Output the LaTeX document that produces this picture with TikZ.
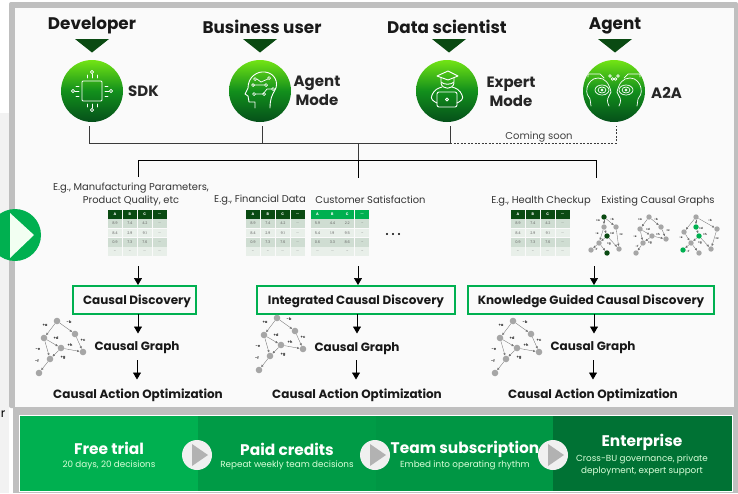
\documentclass[tikz,border=0pt]{standalone}
\usepackage{fontspec}
\setmainfont{Poppins}
\usetikzlibrary{arrows.meta,calc}
\definecolor{frame}{HTML}{BFBFBF}
\definecolor{panel}{HTML}{FAFAFA}
\definecolor{brandgreen}{HTML}{00B050}
\definecolor{dkgreen}{HTML}{0A4A12}
\definecolor{conn}{HTML}{3A3A3A}
\definecolor{gnode}{HTML}{A6A6A6}
\definecolor{rowa}{HTML}{CFDDD2}
\definecolor{rowb}{HTML}{E8EFE9}
\definecolor{icontop}{HTML}{72E414}
\definecolor{iconmid}{HTML}{128F1C}
\definecolor{iconbot}{HTML}{05501A}
\newcommand{\dd}{{.}{.}{.}}
\tikzset{
 x=1pt,y=-1pt,
 conn/.style={draw=conn,line width=.6pt},
 dashconn/.style={conn,dash pattern=on 2pt off 1.5pt},
 flow/.style={draw=black,line width=.7pt,-{Triangle[length=7pt,width=8pt]}},
 role/.style={font=\bfseries\fontsize{16.8}{17}\selectfont,text=black!90,inner sep=0pt,yshift=-2pt},
 mode/.style={font=\bfseries\fontsize{15}{18.5}\selectfont,text=black!85,align=center,inner sep=0pt,yshift=-1pt},
 eg/.style={font=\fontsize{9.9}{13}\selectfont,text=black!80,align=center,inner sep=0pt,yshift=-1pt},
 stage/.style={font=\bfseries\fontsize{12}{12}\selectfont,text=black!90,inner sep=0pt,yshift=-1.5pt},
 cgraph/.style={font=\bfseries\fontsize{12}{12}\selectfont,text=black!90,inner sep=0pt,yshift=-1.5pt},
 cao/.style={font=\bfseries\fontsize{12}{12}\selectfont,text=black!90,inner sep=0pt,yshift=-1pt},
 stagebox/.style={draw=brandgreen,line width=2.4pt,inner sep=0pt,fill=none},
 icon/.style={circle,minimum size=62pt,inner sep=0pt,top color=icontop,bottom color=iconbot,middle color=iconmid},
 tri/.style={fill=dkgreen,draw=none},
 ico/.style={draw=white,line width=.9pt,fill=none,line cap=round,line join=round},
 cellh/.style={font=\bfseries\fontsize{3.6}{4}\selectfont,text=white,inner sep=0pt},
 celld/.style={font=\fontsize{3.6}{4}\selectfont,text=black!60,inner sep=0pt},
 gn/.style={circle,fill=gnode,draw=none,minimum size=6.6pt,inner sep=0pt},
 gm/.style={circle,fill=gnode,draw=none,minimum size=5.4pt,inner sep=0pt},
 ge/.style={draw=black!55,line width=.35pt,-{Latex[length=2.4pt,width=2.4pt]}},
 gl/.style={font=\bfseries\fontsize{3.8}{4}\selectfont,text=black!80,inner sep=0pt},
 gs/.style={font=\bfseries\fontsize{2.8}{3}\selectfont,text=black!80,inner sep=0pt},
 plan/.style={font=\bfseries\fontsize{15.4}{16}\selectfont,text=white,inner sep=0pt,yshift=-1pt},
 plansub/.style={font=\fontsize{8.8}{12.5}\selectfont,text=white!85!green,align=center,inner sep=0pt,yshift=-.5pt},
}
% table: #1 x, #2 y, #3 header colour
\newcommand{\datatable}[3]{%
 \foreach \t [count=\i from 0] in {A,B,C,\dd}{
  \fill[#3] ($(#1,#2)+(\i*14.9,0)$) rectangle ++(14.1,9);
  \node[cellh] at ($(#1,#2)+(\i*14.9+7,4.5)$) {\t};
  \fill[rowa] ($(#1,#2)+(\i*14.9,9.6)$) rectangle ++(14.1,8.8);
  \fill[rowb] ($(#1,#2)+(\i*14.9,19)$) rectangle ++(14.1,8.8);
  \fill[rowa] ($(#1,#2)+(\i*14.9,28.4)$) rectangle ++(14.1,8.8);
  \fill[rowb] ($(#1,#2)+(\i*14.9,37.8)$) rectangle ++(14.1,8.8);
 }
}
\newcommand{\rowvals}[4]{%
 \foreach \v [count=\i from 0] in {#4}{
  \node[celld] at ($(#1,#2)+(\i*14.9+7,#3)$) {\v};
 }
}
\newcommand{\tablevals}[2]{%
 \rowvals{#1}{#2}{14}{8.9,7.4,4.2,\dd}
 \rowvals{#1}{#2}{23.4}{8.4,2.9,9.1,\dd}
 \rowvals{#1}{#2}{32.8}{0.9,7.3,7.6,\dd}
 \rowvals{#1}{#2}{42.2}{\dd,\dd,\dd,\dd}
}
% small causal graph
\newcommand{\smallgraph}[3]{%
\begin{scope}[shift={(#1,#2)}]
 \node[gn] (#3t) at (57,321) {};
 \node[gn] (#3b) at (75,334) {};
 \node[gn] (#3c) at (83,352) {};
 \node[gn] (#3d) at (44,338) {};
 \node[gn] (#3e) at (61,348) {};
 \node[gn] (#3f) at (50,359) {};
 \node[gn] (#3g) at (39,373) {};
 \draw[ge] (#3t)--(#3d);
 \draw[ge] (#3t)--(#3b);
 \draw[ge] (#3b)--(#3c);
 \draw[ge] (#3d)--(#3e);
 \draw[ge] (#3d)--(#3f);
 \draw[ge] (#3e)--(#3c);
 \draw[ge] (#3e)--(#3f);
 \draw[ge] (#3f)--(#3g);
 \node[gl] at (45,325) {+a};
 \node[gl] at (69,322) {-b};
 \node[gl] at (83,340) {+c};
 \node[gl] at (56,338) {+d};
 \node[gl] at (38,349) {-e};
 \node[gl] at (70,345) {+h};
 \node[gl] at (63,358) {+g};
 \node[gl] at (37,361) {-f};
\end{scope}}
\begin{document}
\begin{tikzpicture}
\useasboundingbox (0,0) rectangle (738,493);
% page backdrop
\fill[white] (0,0) rectangle (738,493);
\fill[black!5] (0,113) rectangle (9,493);
% frame
\fill[frame,rounded corners=2pt] (9,2) rectangle (738,408);
\fill[frame] (13,400) rectangle (738,493);
\fill[panel] (15,8) rectangle (734,407);
% bottom band
\fill[white] (19,415) rectangle (733,492);
\fill[brandgreen] (20,416) rectangle (198,491);
\fill[brandgreen!88!black] (198,416) rectangle (376,491);
\fill[brandgreen!85!black] (376,416) rectangle (553,491);
\fill[brandgreen!65!black] (553,416) rectangle (732,491);
\foreach \n/\x in {pa/197,pb/375,pc/553}{
 \node[circle,fill=black!6,minimum size=30pt,inner sep=0pt] (\n) at (\x,455) {};
 \fill[black!30] (\x-5,444) -- (\x+11,455) -- (\x-5,466) -- cycle;
}
\node[plan] (fta) at (109,447) {Free trial};
\node[plansub] (ftb) at (109,464.5) {20 days, 20 decisions};
\node[plan] (pca) at (287,448) {Paid credits};
\node[plansub] (pcb) at (287,465) {Repeat weekly team decisions};
\node[plan] (tsa) at (465,448) {Team subscription};
\node[plansub] (tsb) at (465,465) {Embed into operating rhythm};
\node[plan] (ena) at (642,441) {Enterprise};
\node[plansub] (enb) at (642,465) {Cross-BU governance, private\\deployment, expert support};
% fragments at the left edge
\node[font=\fontsize{12}{12}\selectfont,inner sep=0pt] (frag) at (3,414) {r};
% roles
\node[role] (r1) at (92,24) {Developer};
\node[role] (r2) at (262,25) {Business user};
\node[role] (r3) at (447,25) {Data scientist};
\node[role] (r4) at (615,24) {Agent};
\foreach \x in {92,260,449,615}{\fill[tri] (\x-17,39) -- (\x+17,39) -- (\x,52.5) -- cycle;}
% icon circles
\node[icon] (i1) at (92,91) {};
\node[icon] (i2) at (260,91) {};
\node[icon] (i3) at (447,91) {};
\node[icon] (i4) at (614,91) {};
\node[mode,anchor=west] (m1) at (128,90) {SDK};
\node[mode] (m2) at (317,90) {Agent\\Mode};
\node[mode] (m3) at (511,91) {Expert\\Mode};
\node[mode,anchor=west] (m4) at (651,92) {A2A};
% SDK glyph
\begin{scope}[shift={(i1.center)}]
 \draw[ico,rounded corners=1pt] (-10,-10) rectangle (10,10);
 \foreach \a in {0,90,180,270}{\begin{scope}[rotate=\a]
  \draw[ico] (0,-13)--(0,-17); \draw[ico,line width=.7pt] (0,-19) circle (1.7);
  \draw[ico] (-5,-13)--(-5,-16); \draw[ico] (5,-13)--(5,-16);
 \end{scope}}
\end{scope}
% head glyph
\begin{scope}[shift={(i2.center)}]
 \draw[ico] (-5,17) -- (-5,11) -- (-11,11) -- (-12,5) -- (-15,3) -- (-12,-3)
   .. controls (-12,-14) and (-3,-20) .. (5,-19) .. controls (15,-18) and (19,-8) .. (15,-1)
   .. controls (12,4) and (10,8) .. (10,17);
 \draw[ico,line width=.7pt] (-7,-6)--(5,-6) (-4,3)--(3,3) -- (7,-2) -- (12,-2) (-3,-12)--(1,-9) -- (8,-12);
 \foreach \p in {(-7,-6),(-6,3),(-5,-12),(9,-13),(13,-2),(6,-6),(4,3)}{\draw[ico,line width=.7pt] \p circle (1.5);}
\end{scope}
% scholar glyph
\begin{scope}[shift={(i3.center)}]
 \draw[ico] (-10,-15) -- (1,-20) -- (11,-15) -- (1,-11) -- cycle;
 \draw[ico] (-6,-13) -- (-6,-9) .. controls (-3,-6) and (4,-6) .. (7,-9) -- (7,-13);
 \draw[ico] (-6,-8) .. controls (-5,-1) and (6,-1) .. (7,-8);
 \draw[ico,rounded corners=2pt] (-10,1) rectangle (10,16);
 \draw[ico] (-10,12) .. controls (-14,10) and (-17,8) .. (-15,4) .. controls (-13,-1) and (-9,-3) .. (-5,-4);
 \draw[ico] (10,12) .. controls (14,10) and (17,8) .. (15,4) .. controls (13,-1) and (9,-3) .. (5,-4);
 \draw[ico] (0,8.5) circle (1.6);
\end{scope}
% two heads glyph
\begin{scope}[shift={(i4.center)}]
 \foreach \s in {1,-1}{\begin{scope}[xscale=\s]
  \draw[ico,line width=.7pt] (12,-1) ellipse (7 and 5);
  \draw[ico,line width=.7pt] (12,-1) ellipse (4 and 3) (12,-1) circle (1.2);
  \draw[ico,line width=.7pt] (5,15) .. controls (7,11) and (7,8) .. (5,5) -- (3,1) .. controls (5,-8) and (9,-13) .. (16,-13) .. controls (22,-13) and (26,-8) .. (27,-3) .. controls (28,3) and (26,5) .. (24,8) -- (23,15);
  \draw[ico,line width=.7pt] (10,-13) -- (14,-17) -- (26,-17) -- (26,-14);
  \draw[ico,line width=.7pt] (1.5,-12) circle (1.3);
  \draw[ico,line width=.7pt] (4,-15) circle (1.3);
 \end{scope}}
\end{scope}
% connectors: roles to bus
\coordinate (bl) at (89,143);
\coordinate (bm) at (358,143);
\coordinate (br) at (450,143);
\coordinate (bd) at (616,143);
\coordinate (s1) at (89,126);
\coordinate (s2) at (262,126);
\coordinate (s3) at (450,126);
\coordinate (s4) at (616,126);
\draw[conn] (s1)--(bl)--(br);
\draw[conn] (s2)--(262,143);
\draw[conn] (s3)--(br);
\draw[dashconn] (br)--(bd)--(s4);
\node[font=\fontsize{10}{10}\selectfont,text=black!75,inner sep=0pt,yshift=-.5pt] (soon) at (539,137) {Coming soon};
\coordinate (tm) at (358,160);
\coordinate (tl) at (138,160);
\coordinate (tr) at (596,160);
\draw[conn] (bm)--(tm);
\draw[draw=black,line width=.6pt] (138,177)--(tl)--(tr)--(596,178);
\draw[draw=black,line width=.6pt] (tm)--(358,178);
% example labels
\node[eg] (e1) at (131,193.5) {E.g., Manufacturing Parameters,\\Product Quality, etc};
\node[eg] (e2) at (260,199) {E.g., Financial Data};
\node[eg] (e3) at (370.5,199) {Customer Satisfaction};
\node[eg] (e4) at (541,200.5) {E.g., Health Checkup};
\node[eg] (e5) at (658,200) {Existing Causal Graphs};
% tables
\datatable{108}{209.5}{dkgreen}\tablevals{108}{209.5}
\datatable{246}{209.5}{dkgreen}\tablevals{246}{209.5}
\datatable{310.5}{209.5}{brandgreen}
\rowvals{310.5}{209.5}{14}{5.9,4.4,2.2,\dd}
\rowvals{310.5}{209.5}{23.4}{5.4,1.9,9.5,\dd}
\rowvals{310.5}{209.5}{32.8}{0.6,3.3,8.6,\dd}
\rowvals{310.5}{209.5}{42.2}{\dd,\dd,\dd,\dd}
\datatable{511}{209.5}{dkgreen}\tablevals{511}{209.5}
\foreach \x in {387,393,399}{\fill[black] (\x,234) circle (1.1);}
% existing graphs
 \node[gm,fill=dkgreen] (a1) at (604,217) {};
 \node[gm] (a2) at (616,227) {};
 \node[gm] (a3) at (619,249) {};
 \node[gm] (a4) at (604,227) {};
 \node[gm,fill=dkgreen] (a5) at (607,236) {};
 \node[gm] (a6) at (599,243) {};
 \node[gm] (a7) at (591,250) {};
 \node[gm,fill=dkgreen] (a8) at (607,253) {};
 \draw[ge] (a1)--(a4); \draw[ge] (a1)--(a2); \draw[ge] (a2)--(a3); \draw[ge] (a4)--(a5);
 \draw[ge] (a4)--(a6); \draw[ge] (a5)--(a3); \draw[ge] (a5)--(a6); \draw[ge] (a6)--(a7); \draw[ge] (a6)--(a8);
 \node[gs] at (598,221) {+a}; \node[gs] at (612,219) {-b}; \node[gs] at (621,235) {+c}; \node[gs] at (612,233) {+d};
 \node[gs] at (597,234) {-e}; \node[gs] at (596,249) {-f}; \node[gs] at (609,244) {+g};
 \node[gm] (b1) at (649,217) {};
 \node[gm] (b2) at (661,227) {};
 \node[gm] (b3) at (666,239) {};
 \node[gm] (b4) at (640,229) {};
 \node[gm] (b5) at (652,236) {};
 \node[gm] (b6) at (643,243) {};
 \node[gm] (b7) at (636,253) {};
 \draw[ge] (b1)--(b4); \draw[ge] (b1)--(b2); \draw[ge] (b2)--(b3); \draw[ge] (b4)--(b5);
 \draw[ge] (b4)--(b6); \draw[ge] (b5)--(b3); \draw[ge] (b5)--(b6); \draw[ge] (b6)--(b7);
 \node[gs] at (640,220) {+a}; \node[gs] at (656,219) {-b}; \node[gs] at (668,231) {+c}; \node[gs] at (648,229) {+d};
 \node[gs] at (635,237) {-e}; \node[gs] at (637,246) {-f}; \node[gs] at (650,243) {+g}; \node[gs] at (658,234) {+h};
 \node[gm] (c1) at (696,217) {};
 \node[gm] (c2) at (717,229) {};
 \node[gm] (c3) at (711,249) {};
 \node[gm,fill=brandgreen] (c4) at (696,227) {};
 \node[gm,fill=brandgreen] (c5) at (699,236) {};
 \node[gm] (c6) at (691,243) {};
 \node[gm] (c7) at (684,232) {};
 \node[gm,fill=brandgreen] (c8) at (683,250) {};
 \node[gm] (c9) at (699,253) {};
 \draw[ge] (c1)--(c7); \draw[ge] (c1)--(c2); \draw[ge] (c2)--(c3); \draw[ge] (c1)--(c4); \draw[ge] (c4)--(c5);
 \draw[ge] (c7)--(c6); \draw[ge] (c5)--(c3); \draw[ge] (c5)--(c6); \draw[ge] (c6)--(c8); \draw[ge] (c6)--(c9);
 \node[gs] at (681,238) {-e}; \node[gs] at (710,220) {-b}; \node[gs] at (717,239) {+c}; \node[gs] at (701,228) {+d};
 \node[gs] at (705,234) {+h}; \node[gs] at (700,243) {+g}; \node[gs] at (688,251) {-f};
% stage boxes
\node[stage] (cd1) at (137,300) {Causal Discovery};
\node[stage] (cd2) at (356,300) {Integrated Causal Discovery};
\node[stage] (cd3) at (591,300) {Knowledge Guided Causal Discovery};
\draw[stagebox] (73,286) rectangle (196,314);
\draw[stagebox] (257,286) rectangle (455,314);
\draw[stagebox] (468,286) rectangle (714,314);
% arrows
\foreach \x in {138,358,594}{
 \draw[flow] (\x,266)--(\x,285);
}
\foreach \x/\xb in {138/137,357/356,594/593}{
 \draw[flow] (\x,314)--(\x,333.5);
 \draw[flow] (\xb,360)--(\xb,379.5);
}
\node[cgraph] (g1) at (137,346) {Causal Graph};
\node[cgraph] (g2) at (357,347) {Causal Graph};
\node[cgraph] (g3) at (593,346) {Causal Graph};
\node[cao] (o1) at (138,394) {Causal Action Optimization};
\node[cao] (o2) at (357,394) {Causal Action Optimization};
\node[cao] (o3) at (593,394) {Causal Action Optimization};
\smallgraph{0}{0}{p}
\smallgraph{220}{-3}{q}
\smallgraph{456}{0}{s}
% left play button
\fill[brandgreen] (15,235) circle (26);
\fill[white!95!green] (10,213) -- (34,235) -- (10,258) -- cycle;
\end{tikzpicture}
\end{document}
